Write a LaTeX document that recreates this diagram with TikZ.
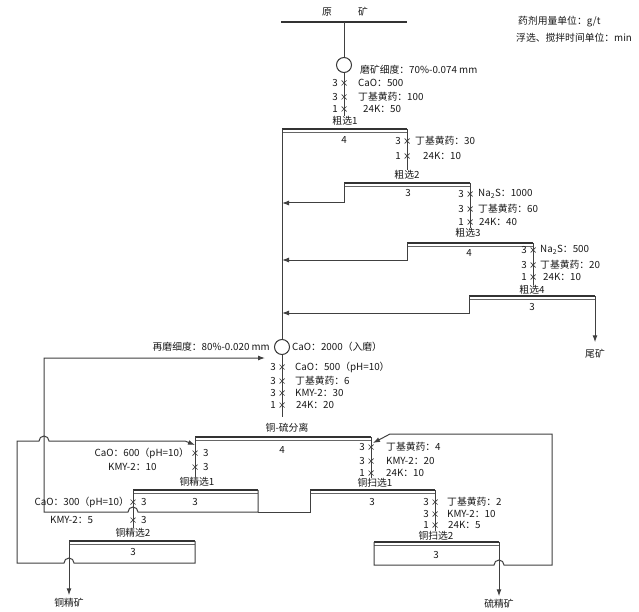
\documentclass[tikz,border=0pt]{standalone}
\usepackage{fontspec}
\setmainfont{Noto Sans CJK SC}
\usetikzlibrary{arrows.meta}
\tikzset{
  ln/.style={draw=black!75, line width=1pt},
  arr/.style={ln, -{Latex[length=7pt,width=5pt]}},
  bartop/.style={draw=black!80, line width=1.7pt},
  barsub/.style={draw=black!60, line width=0.6pt},
  txt/.style={font=\fontsize{9.8}{11}\selectfont, inner sep=0pt, text=black!90},
  mkline/.style={draw=black!75, line width=0.7pt},
  mill/.style={circle, draw=black!78, line width=1pt, minimum size=15pt, inner sep=0pt, fill=white},
}
\newcommand\cellbar[4]{%
  \coordinate (#1L) at (#2,#4);
  \coordinate (#1R) at (#3,#4);
  \draw[bartop] (#1L) -- (#1R);
  \draw[barsub] ([yshift=-3pt]#1L) -- ([yshift=-3pt]#1R);
}
\newcommand\mk[2]{\draw[mkline] ({#1-2.5},{#2-2.5}) -- ({#1+2.5},{#2+2.5}) ({#1-2.5},{#2+2.5}) -- ({#1+2.5},{#2-2.5});}
% name, x, y, number, text x, text
\newcommand\rgR[6]{%
  \mk{#2}{#3}
  \node[txt,anchor=east] (#1n) at ({#2-6},#3) {#4};
  \node[txt,anchor=west] (#1t) at (#5,#3) {#6};
}
\begin{document}
\begin{tikzpicture}[x=1pt,y=-1pt]
\fill[white] (0,0) rectangle (639,612);
\useasboundingbox (0,0) rectangle (639,612);

% ---- header
\coordinate (oreL) at (281,22);
\coordinate (oreR) at (407,22);
\coordinate (oreM) at (344,22);
\draw[bartop] (oreL) -- (oreR);
\node[txt] (yuan) at (327,12) {原};
\node[txt] (kuang) at (363,12) {矿};
\node[mill] (mill1) at (344,65) {};
\draw[ln] (oreM) -- (mill1);
\node[txt,anchor=west] (grind1) at (360,70) {磨矿细度：70\%-0.074 mm};
\node[txt,anchor=west] (unit1) at (518,22) {药剂用量单位：g/t};
\node[txt,anchor=west] (unit2) at (516,38) {浮选、搅拌时间单位：min};

% ---- rougher 1
\node[txt] (lr1) at (345,121) {粗选1};
\draw[ln] (mill1) -- (mill1 |- lr1.north);
\rgR{ra}{344}{83}{3}{358}{CaO：500}
\rgR{rb}{344}{97}{3}{358}{丁基黄药：100}
\rgR{rc}{344}{109}{1}{363}{24K：50}
\cellbar{r1}{282}{407}{129}
\node[txt] (nr1) at (344,140) {4};

% ---- rougher 2
\node[txt] (lr2) at (407,175) {粗选2};
\draw[ln] (r1R) -- (r1R |- lr2.north);
\rgR{rd}{407}{141}{3}{415}{丁基黄药：30}
\rgR{re}{407}{156}{1}{423}{24K：10}
\cellbar{r2}{344}{470}{183}
\node[txt] (nr2) at (408,193) {3};
\coordinate (r2c) at (344,203);
\draw[arr] (r2L) -- (r2c) -- (r2c -| r1L);

% ---- rougher 3
\node[txt] (lr3) at (468,233) {粗选3};
\draw[ln] (r2R) -- (r2R |- lr3.north);
\rgR{rf}{470}{194}{3}{478}{Na\textsubscript{2}S：1000}
\rgR{rg}{470}{209}{3}{478}{丁基黄药：60}
\rgR{rh}{470}{222}{1}{479}{24K：40}
\cellbar{r3}{407}{533}{243}
\node[txt] (nr3) at (469,253) {4};
\coordinate (r3c) at (407,260);
\draw[arr] (r3L) -- (r3c) -- (r3c -| r1L);

% ---- rougher 4
\node[txt] (lr4) at (532,290) {粗选4};
\draw[ln] (r3R) -- (r3R |- lr4.north);
\rgR{ri}{533}{250}{3}{540}{Na\textsubscript{2}S：500}
\rgR{rj}{533}{265}{3}{540}{丁基黄药：20}
\rgR{rk}{533}{277}{1}{543}{24K：10}
\cellbar{r4}{469}{595}{296}
\node[txt] (nr4) at (532,307) {3};
\coordinate (r4c) at (469,313);
\draw[arr] (r4L) -- (r4c) -- (r4c -| r1L);
\node[txt] (tail) at (595,354) {尾矿};
\draw[arr, shorten >=7pt] (r4R) -- (r4R |- tail.north);

% ---- regrind
\node[mill] (mill2) at (282,347) {};
\draw[ln] (r1L) -- (mill2);
\node[txt,anchor=east] (grind2) at (270,347) {再磨细度：80\%-0.020 mm};
\node[txt,anchor=west] (lime) at (292,347) {CaO：2000（入磨）};
\rgR{sa}{282}{367}{3}{295}{CaO：500（pH=10）}
\rgR{sb}{282}{381}{3}{295}{丁基黄药：6}
\rgR{sc}{282}{393}{3}{295}{KMY-2：30}
\rgR{sd}{282}{405}{1}{296}{24K：20}
\coordinate (sepin) at (282,417);
\draw[ln] (mill2) -- (sepin);

% ---- Cu-S separation
\node[txt] (lsep) at (287,428) {铜-硫分离};
\cellbar{sep}{195}{371}{437}
\node[txt] (nsep) at (282,450) {4};

% left (Cu concentrate) side
\node[txt] (lc1) at (197,482) {铜精选1};
\draw[ln] (sepL) -- (sepL |- lc1.north);
\mk{195}{453}
\node[txt,anchor=west] (sln1) at (203,453) {3};
\node[txt,anchor=east] (slt1) at (189,453) {CaO：600（pH=10）};
\mk{195}{467}
\node[txt,anchor=west] (sln2) at (203,467) {3};
\node[txt,anchor=west] (slt2) at (108,467) {KMY-2：10};

% right (tails) side
\node[txt] (ls1) at (375,483) {铜扫选1};
\draw[ln] (sepR) -- (sepR |- ls1.north);
\rgR{se}{371}{447}{3}{386}{丁基黄药：4}
\rgR{sf}{371}{461}{3}{386}{KMY-2：20}
\rgR{sg}{371}{473}{1}{386}{24K：10}

% ---- Cu cleaner 1
\cellbar{c1}{133}{258}{490}
\node[txt] (nc1) at (195,502) {3};
\coordinate (c1t) at (258,512);
\coordinate (regrL) at (44,512);
\coordinate (regrT) at (44,358);
\coordinate (regrE) at (265,358);
\draw[arr] (c1R) -- (c1t) -- (138,512) arc[start angle=0,end angle=180,radius=5pt] -- (regrL) -- (regrT) -- (regrE);

% ---- Cu scavenger 1
\cellbar{s1}{310}{435}{490}
\node[txt] (ns1) at (372,502) {3};
\coordinate (s1c) at (310,512);
\draw[ln] (s1L) -- (s1c) -- (c1t);

% c1 concentrate -> c2
\node[txt] (lc2) at (133,533) {铜精选2};
\draw[ln] (c1L) -- (c1L |- lc2.north);
\mk{133}{502}
\node[txt,anchor=west] (cln1) at (141,502) {3};
\node[txt,anchor=east] (clt1) at (129,502) {CaO：300（pH=10）};
\mk{133}{520}
\node[txt,anchor=west] (cln2) at (141,520) {3};
\node[txt,anchor=west] (clt2) at (50,520) {KMY-2：5};

% s1 tails -> s2
\node[txt] (ls2) at (436,536) {铜扫选2};
\draw[ln] (s1R) -- (s1R |- ls2.north);
\rgR{ta}{435}{502}{3}{447}{丁基黄药：2}
\rgR{tb}{435}{514}{3}{447}{KMY-2：10}
\rgR{tc}{435}{525}{1}{448}{24K：5}

% ---- Cu cleaner 2
\cellbar{c2}{69}{195}{541}
\node[txt] (nc2) at (133,552) {3};
\node[txt] (cuconc) at (69,603) {铜精矿};
\draw[arr, shorten >=3pt] (c2L) -- (c2L |- cuconc.north);
\coordinate (c2b) at (195,563);
\coordinate (retL) at (17,563);
\coordinate (retT) at (17,441);
\coordinate (retE) at (185,441);
\coordinate (retTip) at (195,445);
\draw[arr] (c2R) -- (c2b) -- (74,563) arc[start angle=0,end angle=180,radius=5pt] -- (retL) -- (retT) -- (39,441) arc[start angle=180,end angle=0,radius=5pt] -- (retE) -- (retTip);

% ---- Cu scavenger 2
\cellbar{s2}{374}{499}{542}
\node[txt] (ns2) at (436,555) {3};
\node[txt] (sconc) at (499,604) {硫精矿};
\draw[arr, shorten >=3pt] (s2R) -- (s2R |- sconc.north);
\coordinate (s2b) at (374,565);
\coordinate (scR) at (552,565);
\coordinate (scT) at (552,434);
\coordinate (scE) at (390,434);
\coordinate (scTip) at (373,443);
\draw[arr] (s2L) -- (s2b) -- (494,565) arc[start angle=180,end angle=0,radius=5pt] -- (scR) -- (scT) -- (scE) -- (scTip);
\end{tikzpicture}
\end{document}
